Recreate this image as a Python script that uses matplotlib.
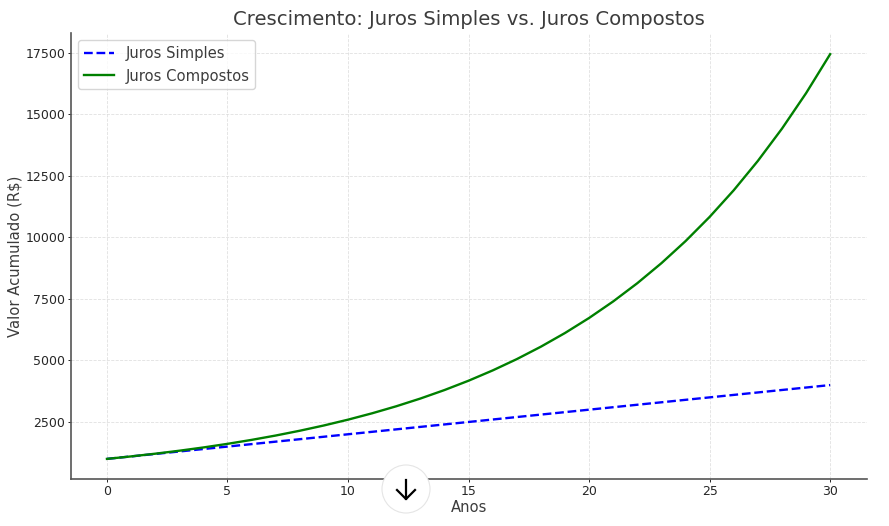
import matplotlib
matplotlib.use('Agg')
import matplotlib.pyplot as plt
from matplotlib.patches import Circle

anos = list(range(0, 31))
simples = [1000, 1100, 1200, 1300, 1400, 1500, 1600, 1700, 1800, 1900, 2000,
           2100, 2200, 2300, 2400, 2500, 2600, 2700, 2800, 2900, 3000,
           3100, 3200, 3300, 3400, 3500, 3600, 3700, 3800, 3900, 4000]
compostos = [1000, 1100, 1210, 1331, 1464, 1611, 1772, 1949, 2144, 2358, 2594,
             2853, 3138, 3452, 3797, 4177, 4595, 5054, 5560, 6116, 6727,
             7400, 8140, 8954, 9850, 10835, 11918, 13110, 14421, 15863, 17449]
xticks = [0, 5, 10, 15, 20, 25, 30]
yticks = [2500, 5000, 7500, 10000, 12500, 15000, 17500]

cinza = '#3c3c3c'

fig = plt.figure(figsize=(8.89, 5.26), dpi=100)
ax = fig.add_axes([0.0799, 0.0894, 0.8954, 0.848])

ax.plot(anos, simples, color='blue', ls='--', lw=1.7, label='Juros Simples')
ax.plot(anos, compostos, color='green', lw=1.7, label='Juros Compostos')

ax.set_xlim(-1.49, 31.53)
ax.set_ylim(183, 18313)
ax.set_xticks(xticks)
ax.set_yticks(yticks)
ax.grid(True, ls='--', lw=0.6, color='#d9d9d9', alpha=0.8)
ax.spines['top'].set_visible(False)
ax.spines['right'].set_visible(False)
ax.spines['left'].set_color('#555555')
ax.spines['bottom'].set_color('#555555')
ax.spines['left'].set_linewidth(1.2)
ax.spines['bottom'].set_linewidth(1.2)
ax.tick_params(labelsize=9, colors='#262626', length=2.5, width=0.7, pad=1.5)

ax.set_title('Crescimento: Juros Simples vs. Juros Compostos', fontsize=14.15, color=cinza, pad=5.5)
ax.set_xlabel('Anos', fontsize=10.6, color=cinza, labelpad=1.5)
ax.set_ylabel('Valor Acumulado (R$)', fontsize=10.6, color=cinza, labelpad=2.3)
ax.legend(loc='upper left', fontsize=10.6, labelcolor=cinza, borderaxespad=0.5)

# botao de rolagem que aparece por cima do grafico
botao = Circle((406, 526 - 489), 24, transform=None, facecolor='white',
               edgecolor='#e5e5e5', lw=0.8, zorder=10)
fig.add_artist(botao)
fig.add_artist(plt.Line2D([406 / 889, 406 / 889], [1 - 480 / 526, 1 - 499 / 526],
                          color='black', lw=1.6, zorder=11))
fig.add_artist(plt.Line2D([397 / 889, 406 / 889, 415 / 889],
                          [1 - 490 / 526, 1 - 499 / 526, 1 - 490 / 526],
                          color='black', lw=1.6, zorder=11))

fig.savefig('out.png', dpi=100)
